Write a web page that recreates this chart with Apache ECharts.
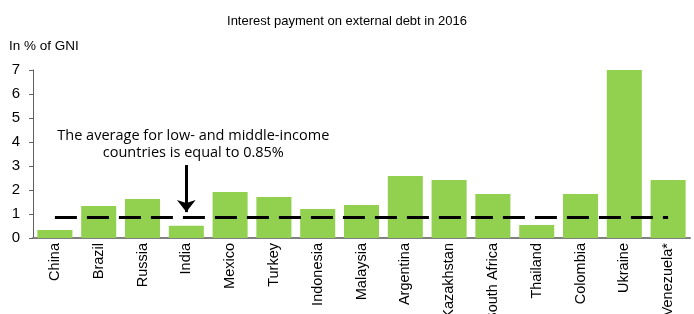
<!DOCTYPE html>
<html><head><meta charset="utf-8">
<script src="https://cdn.jsdelivr.net/npm/echarts@6/dist/echarts.min.js"></script>
<style>html,body{margin:0;padding:0;background:#fff}#c{width:694px;height:314px}</style>
</head><body><div id="c"></div>
<script>
const categories = ['China','Brazil','Russia','India','Mexico','Turkey','Indonesia','Malaysia','Argentina','Kazakhstan','South Africa','Thailand','Colombia','Ukraine','Venezuela*'];
const values = [0.33,1.33,1.63,0.51,1.92,1.71,1.21,1.37,2.58,2.42,1.83,0.54,1.83,7.0,2.42];
const average = 0.85;
const yTicks = [0,1,2,3,4,5,6,7];
const arrowFrom = 3.04, arrowTo = 1.08;
const noteLines = ['The average for low- and middle-income','countries is equal to 0.85%'];

const narrow = '"Liberation Sans",sans-serif';
const chart = echarts.init(document.getElementById('c'));
chart.setOption({
  animation:false,
  title:{text:'Interest payment on external debt in 2016',left:'center',top:10,
    textStyle:{fontFamily:narrow,fontSize:13,fontWeight:'normal',color:'#000'}},
  grid:{left:33,right:4,top:70,bottom:76,containLabel:false,outerBoundsMode:'none'},
  xAxis:{type:'category',data:categories,
    axisLine:{lineStyle:{color:'#808080',width:2}},
    axisTick:{show:false},
    axisLabel:{rotate:90,interval:0,fontFamily:narrow,fontSize:14.5,color:'#000',margin:5}},
  yAxis:{type:'value',min:yTicks[0],max:yTicks[yTicks.length-1],interval:1,
    name:'In % of GNI',nameLocation:'end',nameGap:17,
    nameTextStyle:{fontFamily:narrow,fontSize:13.5,color:'#000',align:'left',padding:[0,0,0,-24]},
    splitLine:{show:false},
    axisLine:{show:true,lineStyle:{color:'#606060',width:1}},
    axisTick:{show:true,inside:false,length:4,lineStyle:{color:'#606060'}},
    axisLabel:{fontFamily:narrow,fontSize:15,color:'#000',margin:13}},
  series:[{type:'bar',data:values,barCategoryGap:'20%',
    itemStyle:{color:'#92D050'},
    markLine:{silent:true,symbol:['none','none'],animation:false,
      data:[
        [{coord:[categories[0],average],lineStyle:{color:'#000',width:3,type:[22,10]}},
         {coord:[categories[categories.length-1],average]}],
        [{coord:[categories[3],arrowFrom],symbol:'none',lineStyle:{color:'#000',width:3,type:'solid'}},
         {coord:[categories[3],arrowTo],symbol:'arrow',symbolSize:[14,12]}]
      ],
      label:{show:false}}
  }]
});
const p = chart.convertToPixel({gridIndex:0},[categories[3],arrowFrom]);
chart.setOption({graphic:[{type:'text',left:p[0]-135+6,top:p[1]-38,
  style:{text:noteLines.join('\n'),align:'center',width:270,
    font:'14.5px "Open Sans",sans-serif',fill:'#000',lineHeight:17,
    x:135,textAlign:'center'}}]});
</script></body></html>
